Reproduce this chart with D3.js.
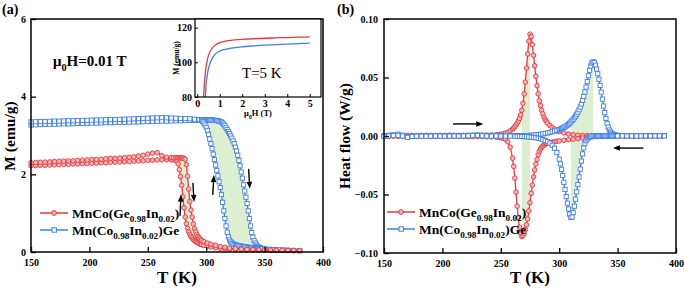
<!DOCTYPE html>
<html><head><meta charset="utf-8">
<script src="https://cdn.jsdelivr.net/npm/d3@7"></script>
<style>body{margin:0;background:#fff}svg{display:block}text{font-family:"Liberation Serif","Times New Roman",serif}</style>
</head><body><svg id="c" width="685" height="288"></svg>
<script>
// ---------- DATA : panel (a) M–T ----------
const redTa = [150,154,158,162,166,170,174,178,182,186,190,194,198,202,206,210,214,218,222,226,230,234,238,242,246,250,254,258,262,266,270,
 272,274,275,276,277,278,279,280,281,282,283,284,285,286,287,288,289,290,291,292,293,294,295,296,
 298,301,304,308,312,316,320,325,330,335,340,345,350,355,360,365,370,375,380];
const redHeatM = [2.30,2.305,2.31,2.315,2.32,2.33,2.335,2.34,2.345,2.35,2.36,2.365,2.37,2.38,2.385,2.39,2.40,2.41,2.415,2.42,2.43,2.44,2.45,2.47,2.49,2.52,2.545,2.56,2.48,2.44,2.43,
 2.43,2.43,2.43,2.43,2.425,2.425,2.42,2.42,2.41,2.39,2.25,1.95,1.62,1.30,1.08,0.90,0.72,0.60,0.52,0.45,0.40,0.36,0.33,0.30,
 0.27,0.23,0.20,0.17,0.14,0.12,0.10,0.085,0.075,0.068,0.062,0.057,0.053,0.049,0.046,0.043,0.040,0.038,0.036];
const redCoolM = [2.22,2.225,2.23,2.235,2.24,2.245,2.25,2.255,2.26,2.265,2.27,2.275,2.28,2.285,2.29,2.295,2.30,2.31,2.315,2.32,2.325,2.33,2.34,2.345,2.35,2.36,2.365,2.37,2.375,2.38,2.375,
 2.37,2.36,2.34,2.27,2.12,1.94,1.72,1.42,1.14,0.90,0.73,0.61,0.52,0.45,0.40,0.36,0.32,0.29,0.27,0.25,0.23,0.215,0.20,0.19,
 0.17,0.15,0.13,0.11,0.095,0.085,0.077,0.07,0.064,0.059,0.055,0.051,0.048,0.045,0.042,0.04,0.038,0.036,0.034];

const blueTa = [150,154,158,162,166,170,174,178,182,186,190,194,198,202,206,210,214,218,222,226,230,234,238,242,246,250,254,258,262,266,270,274,278,282,286,290,294,
 296,297,298,299,300,301,302,303,304,305,306,307,308,309,310,311,312,313,314,315,316,317,318,319,320,321,322,323,324,325,326,327,328,329,330,331,332,333,334,335,336,337,338,339,340,341,342,343,344,345,346,
 348,350,354,358,362,366,370,375,380];
const blueCoolM = [3.35,3.355,3.36,3.36,3.365,3.37,3.37,3.375,3.38,3.38,3.385,3.39,3.39,3.395,3.40,3.40,3.405,3.41,3.41,3.415,3.42,3.425,3.43,3.435,3.44,3.445,3.45,3.455,3.46,3.455,3.45,3.445,3.44,3.435,3.43,3.42,3.41,
 3.39,3.36,3.32,3.27,3.21,3.13,3.03,2.91,2.79,2.66,2.52,2.38,2.24,2.10,1.96,1.81,1.66,1.48,1.28,1.06,0.86,0.67,0.51,0.39,0.31,0.26,0.23,0.21,0.195,0.185,0.175,0.167,0.16,0.155,0.15,0.145,0.14,0.135,0.13,0.125,0.12,0.116,0.112,0.108,0.104,0.10,0.097,0.094,0.091,0.088,0.085,
 0.08,0.075,0.067,0.06,0.055,0.05,0.046,0.042,0.038];
const blueHeatM = [3.27,3.275,3.28,3.285,3.29,3.29,3.295,3.30,3.30,3.305,3.31,3.31,3.315,3.32,3.32,3.325,3.33,3.33,3.335,3.34,3.34,3.345,3.35,3.35,3.355,3.36,3.36,3.365,3.37,3.37,3.375,3.38,3.38,3.385,3.39,3.39,3.395,
 3.395,3.40,3.40,3.40,3.40,3.40,3.40,3.40,3.40,3.395,3.395,3.39,3.39,3.385,3.38,3.37,3.36,3.345,3.32,3.29,3.25,3.20,3.15,3.10,3.05,2.99,2.93,2.86,2.79,2.70,2.60,2.49,2.36,2.22,2.06,1.90,1.73,1.57,1.41,1.25,1.06,0.86,0.67,0.50,0.38,0.29,0.23,0.18,0.15,0.13,0.115,
 0.095,0.082,0.068,0.058,0.05,0.045,0.04,0.036,0.032];

// inset M–H at 5 K
const insetHRed = [0.28,0.32,0.36,0.40,0.45,0.50,0.60,0.70,0.80,1.0,1.2,1.5,2.0,2.5,3.0,3.5,4.0,4.5,5.0];
const insetMRed = [80,88,94,98,101.5,104,107,108.8,110,111.4,112.1,112.7,113.2,113.6,113.9,114.1,114.3,114.5,114.7];
const insetHBlue = [0.36,0.40,0.45,0.50,0.60,0.70,0.80,1.0,1.2,1.5,2.0,2.5,3.0,3.5,4.0,4.5,5.0];
const insetMBlue = [80,88,93,96.5,100.5,103,104.7,106.5,107.4,108.2,109,109.5,109.9,110.2,110.5,110.8,111.1];

// ---------- DATA : panel (b) DSC ----------
const redTb = [150,154,158,162,166,170,174,178,182,186,190,194,198,202,206,210,214,218,222,226,230,234,238,242,246,
 248,250,252,254,256,258,260,
 261,262,263,264,265,266,267,268,269,270,271,272,273,274,275,276,277,278,279,280,281,282,283,284,285,286,287,288,289,290,
 292,294,296,298,300,
 304,308,312,316,320,324,328,332,336,340,344,348,352,356,360,364,368,372,376,380,384,388];
const redHeatHF = [0.0004,0.0005,0.0003,0.0006,0.0004,0.0005,0.0006,0.0004,0.0005,0.0006,0.0005,0.0004,0.0006,0.0005,0.0007,0.0006,0.0005,0.0006,0.0007,0.0006,0.0007,0.0008,0.0008,0.0009,0.001,
 0.0011,0.0014,0.0018,0.0024,0.0031,0.0043,0.0058,
 0.0068,0.008,0.0094,0.011,0.0128,0.015,0.018,0.022,0.028,0.036,0.046,0.058,0.07,0.081,0.087,0.085,0.078,0.069,0.06,0.051,0.043,0.036,0.03,0.026,0.022,0.019,0.016,0.014,0.0125,0.011,
 0.009,0.0072,0.0058,0.0047,0.0038,
 0.0026,0.0017,0.0011,0.0007,0.0005,0.0004,0.0003,0.0003,0.0002,0.0002,0.0002,0.0001,0.0001,0.0001,0,0,0,0,0,0,0,0];
const redCoolHF = [-0.0003,-0.0004,-0.0002,-0.0003,-0.0004,-0.0003,-0.0002,-0.0004,-0.0003,-0.0003,-0.0004,-0.0003,-0.0002,-0.0003,-0.0004,-0.0003,-0.0004,-0.0004,-0.0005,-0.0005,-0.0006,-0.0006,-0.0007,-0.0008,-0.0009,
 -0.0011,-0.0015,-0.002,-0.0028,-0.005,-0.0095,-0.019,
 -0.026,-0.036,-0.048,-0.06,-0.07,-0.078,-0.083,-0.086,-0.085,-0.083,-0.08,-0.076,-0.071,-0.064,-0.057,-0.049,-0.042,-0.035,-0.029,-0.024,-0.02,-0.016,-0.013,-0.011,-0.0095,-0.0085,-0.0076,-0.007,-0.0065,-0.006,
 -0.0056,-0.0052,-0.0048,-0.0045,-0.0042,
 -0.0037,-0.0032,-0.0027,-0.0022,-0.0017,-0.0012,-0.0008,-0.0005,-0.0004,-0.0003,-0.0003,-0.0002,-0.0002,-0.0002,-0.0001,-0.0001,-0.0001,-0.0001,0,0,0,0];

const blueTb = [150,154,158,162,166,170,174,178,182,186,190,194,198,202,206,210,214,218,222,226,230,234,238,242,246,250,254,258,262,
 264,266,268,270,272,274,276,278,280,282,284,286,288,290,292,294,296,298,300,
 301,302,303,304,305,306,307,308,309,310,311,312,313,314,315,316,317,318,319,320,321,322,323,324,325,326,327,328,329,330,331,332,333,334,335,336,337,338,339,340,341,342,343,344,345,346,347,348,349,350,
 354,358,362,366,370,374,378,382,386,390];
const blueHeatHF = [0.0003,0.0006,0.001,0.0015,0.0006,-0.0008,-0.0002,0.0002,0.0003,0.0002,0.0003,0.0004,0.0003,0.0002,0.0003,0.0004,0.0003,0.0003,0.0005,0.0006,0.0009,0.0005,0.0003,0.0004,0.0003,0.0003,0.0004,0.0003,0.0003,
 0.0002,0.0002,0.0003,0.0003,0.0004,0.0005,0.0006,0.0008,0.001,0.0012,0.0015,0.0018,0.0022,0.0026,0.0031,0.0036,0.0042,0.0048,0.0055,
 0.0059,0.0063,0.0068,0.0073,0.0079,0.0086,0.0093,0.0101,0.011,0.012,0.0131,0.0143,0.0156,0.017,0.0186,0.0204,0.0225,0.0248,0.0274,0.0304,
 0.0338,0.0376,0.0418,0.0465,0.0515,0.0562,0.0598,0.0623,0.0634,0.0628,0.0605,0.0572,0.0532,0.0485,0.0432,0.0375,0.0315,0.0256,0.02,0.015,
 0.0108,0.0075,0.0051,0.0034,0.0023,0.0016,0.0011,0.0008,0.0006,0.0005,
 0.0004,0.0003,0.0004,0.0003,0.0002,0.0003,0.0004,0.0003,0.0002,0.0003];
const blueCoolHF = [-0.0002,0.0001,0.0003,0.0005,0,-0.0012,-0.0005,-0.0002,-0.0001,-0.0002,-0.0001,0,-0.0001,-0.0002,-0.0001,0,-0.0001,0,0.0002,0.0003,0.0005,0.0002,0,-0.0001,0,-0.0001,0,-0.0001,-0.0001,
 -0.0002,-0.0003,-0.0004,-0.0005,-0.0006,-0.0008,-0.001,-0.0012,-0.0015,-0.0019,-0.0024,-0.003,-0.0038,-0.0048,-0.0061,-0.0079,-0.0104,-0.0142,-0.0198,
 -0.0238,-0.0285,-0.0338,-0.0396,-0.0457,-0.0518,-0.0574,-0.0624,-0.0668,-0.0697,-0.0692,-0.0655,-0.06,-0.054,-0.0478,-0.0415,-0.035,-0.0283,-0.0215,-0.0153,
 -0.0102,-0.0065,-0.004,-0.0025,-0.0015,-0.0008,-0.0004,-0.0002,-0.0001,0,0,0.0001,0,0,0.0001,0,0,0.0001,0,0,
 0.0001,0,0,0,0.0001,0,0,0.0001,0,0,
 0.0001,0,0.0001,0,0,0.0001,0,0,0.0001,0];

const xTicks = [150,200,250,300,350,400];
const yTicksA = [0,2,4,6];
const yTicksB = [-0.10,-0.05,0.00,0.05,0.10];
const insetXTicks = [0,1,2,3,4,5];
const insetYTicks = [80,100,120];

// ---------- STYLE ----------
const RED = "#e8383c", BLUE = "#3f7fe6", GREEN = "#dcefd0";
const FONT = '"Liberation Serif","Times New Roman",serif';
const svg = d3.select("#c");

function pts(T, V){ const n=Math.min(T.length,V.length); const a=[]; for(let i=0;i<n;i++) a.push({t:T[i],v:V[i]}); return a; }

const xa = d3.scaleLinear().domain([150,400]).range([31,323]);
const ya = d3.scaleLinear().domain([0,6]).range([252,19]);
const xb = d3.scaleLinear().domain([150,400]).range([384,676]);
const yb = d3.scaleLinear().domain([-0.1,0.1]).range([253,19]);

function drawAxes(x, y, yt, yfmt, ypad){
  const g = svg.append("g").attr("font-family",FONT).attr("font-size",13.5).attr("font-weight","bold");
  const gx = g.append("g").attr("transform",`translate(0,${y.range()[0]})`)
    .call(d3.axisBottom(x).tickValues(xTicks).tickFormat(d3.format("d")).tickSizeInner(-5).tickSizeOuter(0).tickPadding(7));
  const gy = g.append("g").attr("transform",`translate(${x.range()[0]},0)`)
    .call(d3.axisLeft(y).tickValues(yt).tickFormat(yfmt).tickSizeInner(-5).tickSizeOuter(0).tickPadding(ypad));
  [gx,gy].forEach(a=>{a.select(".domain").remove(); a.selectAll("line").attr("stroke","#000").attr("stroke-width",1.3); a.selectAll("text").attr("fill","#000");});
  svg.append("rect").attr("x",x.range()[0]).attr("y",y.range()[1]).attr("width",x.range()[1]-x.range()[0]).attr("height",y.range()[0]-y.range()[1])
    .attr("fill","none").attr("stroke","#000").attr("stroke-width",1.5);
}

function fillBetween(x,y,A,B,lo,hi){
  const a = A.filter(d=>d.t>=lo&&d.t<=hi), b = B.filter(d=>d.t>=lo&&d.t<=hi).reverse();
  const poly = a.concat(b).map(d=>[x(d.t),y(d.v)]);
  svg.append("path").attr("d","M"+poly.join("L")+"Z").attr("fill",GREEN).attr("stroke","none");
}

function series(x,y,data,color,shape){
  const line = d3.line().x(d=>x(d.t)).y(d=>y(d.v)).curve(d3.curveMonotoneX);
  svg.append("path").attr("d",line(data)).attr("fill","none").attr("stroke",color).attr("stroke-width",1.3);
  const g = svg.append("g");
  if(shape==="circle"){
    g.selectAll("circle").data(data).join("circle").attr("cx",d=>x(d.t)).attr("cy",d=>y(d.v)).attr("r",2.3)
      .attr("fill","#f6b4b4").attr("stroke",color).attr("stroke-width",0.9);
  } else {
    g.selectAll("rect").data(data).join("rect").attr("x",d=>x(d.t)-2.1).attr("y",d=>y(d.v)-2.1).attr("width",4.2).attr("height",4.2)
      .attr("fill","#fff").attr("stroke",color).attr("stroke-width",0.9);
  }
}

function rich(x,y,parts,size,weight,anchor){
  const t = svg.append("text").attr("x",x).attr("y",y).attr("font-family",FONT).attr("font-size",size)
     .attr("font-weight",weight||"bold").attr("text-anchor",anchor||"start").attr("fill","#000");
  let shift=0;
  parts.forEach(([s,sub])=>{ const want = sub? Math.round(size*0.3):0;
    t.append("tspan").attr("dy",want-shift).attr("font-size", sub? size*0.68: size).text(s); shift=want; });
  return t;
}

function legendItem(x,y,color,shape,parts){
  svg.append("line").attr("x1",x).attr("x2",x+28).attr("y1",y).attr("y2",y).attr("stroke",color).attr("stroke-width",1.5);
  if(shape==="circle") svg.append("circle").attr("cx",x+14).attr("cy",y).attr("r",2.4).attr("fill","#f6b4b4").attr("stroke",color);
  else svg.append("rect").attr("x",x+12).attr("y",y-2.2).attr("width",4.4).attr("height",4.4).attr("fill","#fff").attr("stroke",color);
  rich(x+32,y+5,parts,13.5,"bold");
}

function arrow(x1,y1,x2,y2){
  const dx=x2-x1, dy=y2-y1, L=Math.hypot(dx,dy), ux=dx/L, uy=dy/L, hl=7, hw=2.8;
  const bx=x2-ux*hl, by=y2-uy*hl;
  svg.append("line").attr("x1",x1).attr("y1",y1).attr("x2",bx).attr("y2",by).attr("stroke","#000").attr("stroke-width",1.4);
  svg.append("path").attr("d",`M${x2},${y2}L${bx-uy*hw},${by+ux*hw}L${bx+uy*hw},${by-ux*hw}Z`).attr("fill","#000");
}

// ================= Panel (a) =================
const rH = pts(redTa,redHeatM), rC = pts(redTa,redCoolM), bC = pts(blueTa,blueCoolM), bH = pts(blueTa,blueHeatM);
fillBetween(xa,ya,bH,bC,296,346);
fillBetween(xa,ya,rH,rC,274,304);
series(xa,ya,bH,BLUE,"square"); series(xa,ya,bC,BLUE,"square");
series(xa,ya,rC,RED,"circle"); series(xa,ya,rH,RED,"circle");
drawAxes(xa,ya,yTicksA,d3.format("d"),5);

// arrows (a)
arrow(xa(277.6),ya(0.93),xa(278.4),ya(1.48));
arrow(xa(288.6),ya(1.78),xa(289.6),ya(1.29));
arrow(xa(305.6),ya(1.47),xa(306.6),ya(1.98));
arrow(xa(336.3),ya(2.14),xa(337.3),ya(1.63));

rich(53,66,[["μ",0],["0",1],["H=0.01 T",0]],15,"bold");
legendItem(40,213,RED,"circle",[["MnCo(Ge",0],["0.98",1],["In",0],["0.02",1],[")",0]]);
legendItem(40,230,BLUE,"square",[["Mn(Co",0],["0.98",1],["In",0],["0.02",1],[")Ge",0]]);

svg.append("text").attr("x",177).attr("y",283).attr("text-anchor","middle").attr("font-family",FONT).attr("font-size",17).attr("font-weight","bold").text("T (K)");
svg.append("text").attr("transform","translate(15,136) rotate(-90)").attr("text-anchor","middle").attr("font-family",FONT).attr("font-size",15.5).attr("font-weight","bold").text("M (emu/g)");
svg.append("text").attr("x",2).attr("y",14).attr("font-family",FONT).attr("font-size",14).attr("font-weight","bold").text("(a)");

// inset
const xi = d3.scaleLinear().domain([-0.1,5.5]).range([195,321]);
const yi = d3.scaleLinear().domain([80,125]).range([97,19]);
svg.append("rect").attr("x",195).attr("y",19).attr("width",126).attr("height",78).attr("fill","#fff");
const il = d3.line().x(d=>xi(d.t)).y(d=>yi(d.v)).curve(d3.curveMonotoneX);
svg.append("path").attr("d",il(pts(insetHBlue,insetMBlue))).attr("fill","none").attr("stroke",BLUE).attr("stroke-width",1.3);
svg.append("path").attr("d",il(pts(insetHRed,insetMRed))).attr("fill","none").attr("stroke",RED).attr("stroke-width",1.3);
{
  const g = svg.append("g").attr("font-family",FONT).attr("font-size",8.5).attr("font-weight","bold");
  const gx = g.append("g").attr("transform","translate(0,97)").call(d3.axisBottom(xi).tickValues(insetXTicks).tickFormat(d3.format("d")).tickSizeInner(-3).tickSizeOuter(0).tickPadding(3));
  const gy = g.append("g").attr("transform","translate(195,0)").call(d3.axisLeft(yi).tickValues(insetYTicks).tickFormat(d3.format("d")).tickSizeInner(-3).tickSizeOuter(0).tickPadding(3));
  [gx,gy].forEach(a=>{a.select(".domain").remove(); a.selectAll("line").attr("stroke","#000"); a.selectAll("text").attr("fill","#000");});
  svg.append("rect").attr("x",195).attr("y",19).attr("width",126).attr("height",78).attr("fill","none").attr("stroke","#000").attr("stroke-width",1.2);
}
rich(258,116,[["μ",0],["0",1],["H (T)",0]],8.5,"bold","middle");
svg.append("text").attr("transform","translate(179,58) rotate(-90)").attr("text-anchor","middle").attr("font-family",FONT).attr("font-size",7.5).attr("font-weight","bold").text("M (emu/g)");
svg.append("text").attr("x",242).attr("y",78).attr("font-family",FONT).attr("font-size",15).text("T=5 K");

// ================= Panel (b) =================
const rPos = pts(redTb,redHeatHF), rNeg = pts(redTb,redCoolHF), bPos = pts(blueTb,blueHeatHF), bNeg = pts(blueTb,blueCoolHF);
fillBetween(xb,yb,rPos,rNeg,268,275);
fillBetween(xb,yb,bPos,bNeg,310,329);
series(xb,yb,rPos,RED,"circle"); series(xb,yb,rNeg,RED,"circle");
series(xb,yb,bPos,BLUE,"square"); series(xb,yb,bNeg,BLUE,"square");
drawAxes(xb,yb,yTicksB,d3.format(".2f"),6);

arrow(xb(209),yb(0.0103),xb(235),yb(0.0103));
arrow(xb(372),yb(-0.0103),xb(346),yb(-0.0103));

legendItem(387,212,RED,"circle",[["MnCo(Ge",0],["0.98",1],["In",0],["0.02",1],[")",0]]);
legendItem(387,229,BLUE,"square",[["Mn(Co",0],["0.98",1],["In",0],["0.02",1],[")Ge",0]]);

svg.append("text").attr("x",530).attr("y",283).attr("text-anchor","middle").attr("font-family",FONT).attr("font-size",17).attr("font-weight","bold").text("T (K)");
svg.append("text").attr("transform","translate(350,136) rotate(-90)").attr("text-anchor","middle").attr("font-family",FONT).attr("font-size",15.5).attr("font-weight","bold").text("Heat flow (W/g)");
svg.append("text").attr("x",337).attr("y",14).attr("font-family",FONT).attr("font-size",14).attr("font-weight","bold").text("(b)");
</script></body></html>
